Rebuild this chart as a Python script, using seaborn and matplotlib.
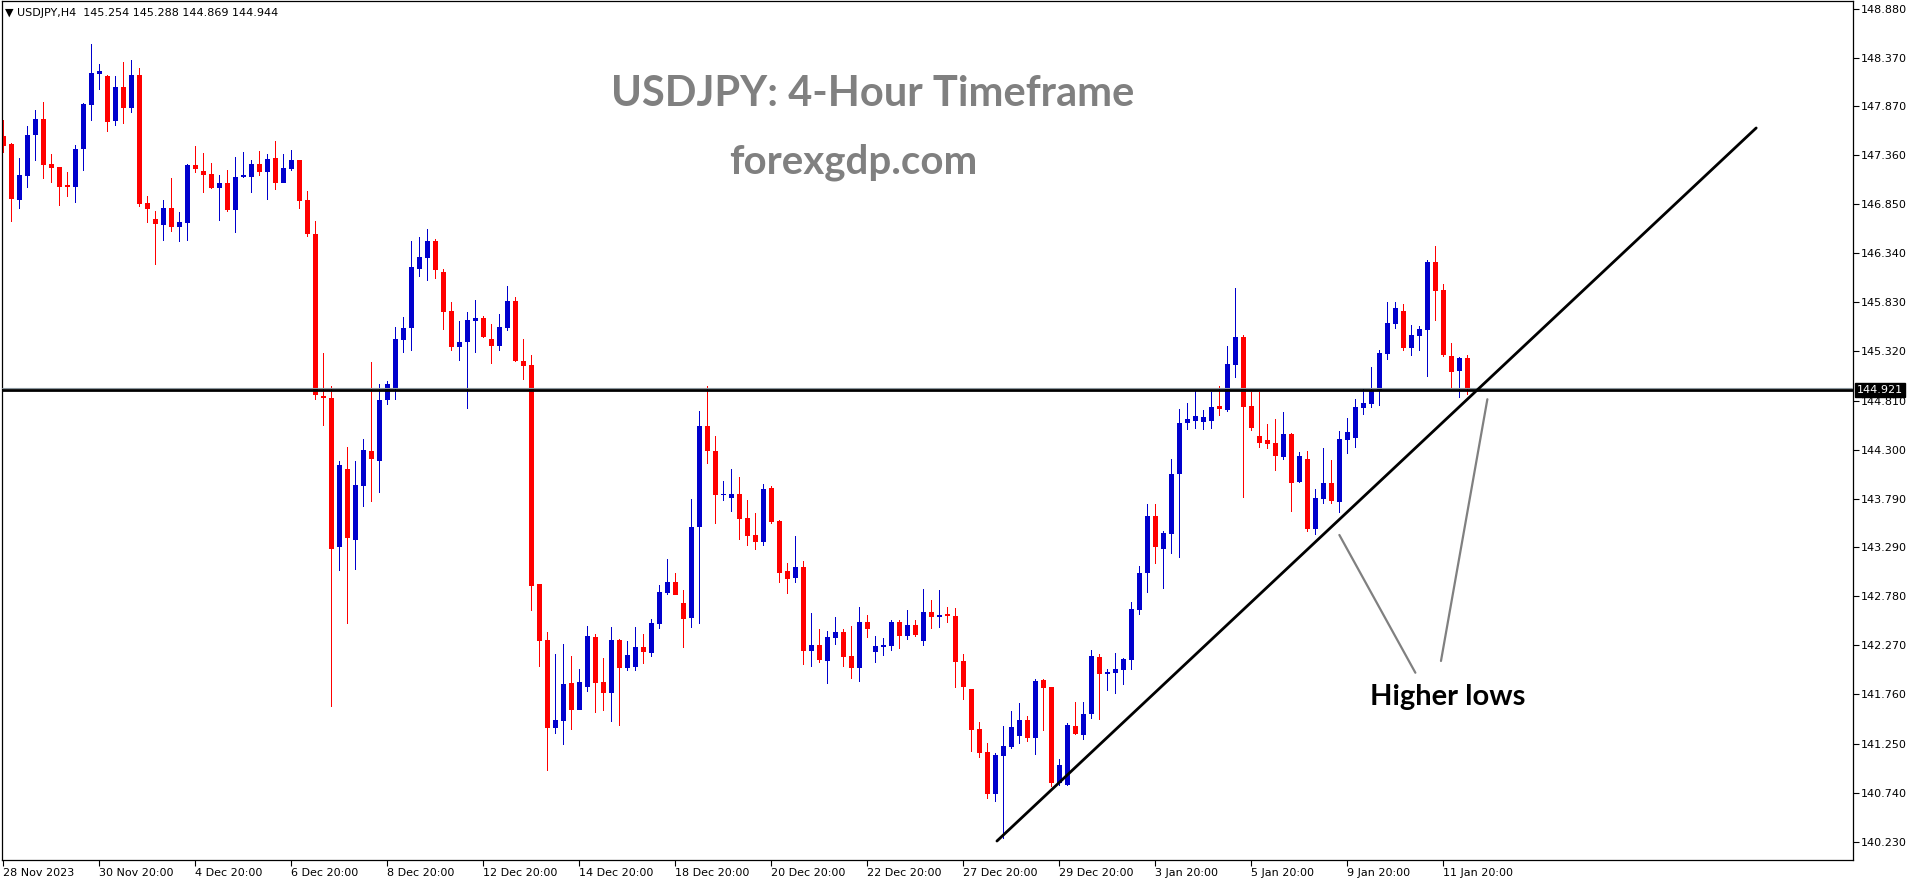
import numpy as np
import pandas as pd
import matplotlib
matplotlib.use("Agg")
import matplotlib.pyplot as plt
import matplotlib.transforms as mtransforms
import seaborn as sns

# USDJPY H4 candles, bar 0 = 28 Nov 2023 20:00
opens = [147.557, 147.474, 146.896, 147.145, 147.571, 147.733, 147.266, 147.235, 147.041, 147.031,
         147.425, 147.882, 148.204, 148.180, 147.716, 148.066, 147.851, 148.190, 146.861, 146.695,
         146.636, 146.809, 146.616, 146.657, 147.256, 147.194, 147.162, 147.021, 147.069, 146.792,
         147.130, 147.134, 147.267, 147.178, 147.327, 147.073, 147.214, 147.307, 146.891, 146.540,
         144.861, 144.836, 143.286, 144.102, 143.367, 143.928, 144.287, 144.186, 144.816, 144.929,
         145.442, 145.559, 146.181, 146.286, 146.467, 146.144, 145.741, 145.369, 145.414, 145.640,
         145.668, 145.447, 145.380, 145.566, 145.845, 145.221, 145.181, 142.901, 142.325, 141.415,
         141.486, 141.876, 141.601, 141.840, 142.356, 141.887, 141.776, 142.325, 142.038, 142.046,
         142.253, 142.193, 142.495, 142.817, 142.924, 142.710, 142.555, 143.496, 144.545, 144.287,
         143.830, 143.803, 143.841, 143.592, 143.415, 143.346, 143.907, 143.561, 143.041, 142.972,
         143.083, 142.215, 142.273, 142.111, 142.349, 142.408, 142.159, 142.038, 142.512, 142.204,
         142.256, 142.266, 142.512, 142.370, 142.481, 142.318, 142.616, 142.567, 142.595, 142.574,
         142.107, 141.816, 141.401, 141.162, 140.730, 141.124, 141.217, 141.332, 141.494, 141.311,
         141.910, 141.837, 140.844, 140.823, 141.432, 141.342, 141.560, 142.148, 141.975, 141.986,
         142.017, 142.121, 142.640, 143.024, 143.612, 143.273, 143.430, 144.050, 144.580, 144.600,
         144.592, 144.602, 144.755, 144.713, 145.184, 145.471, 144.755, 144.443, 144.402, 144.371,
         144.229, 144.464, 143.969, 144.205, 143.481, 143.793, 143.955, 143.762, 144.405, 144.422,
         144.737, 144.779, 144.917, 145.298, 145.609, 145.741, 145.360, 145.485, 145.547, 146.249,
         145.959, 145.274, 145.121, 145.254]
highs = [147.723, 147.481, 147.328, 147.661, 147.827, 147.910, 147.370, 147.235, 147.183, 147.463,
         147.899, 148.512, 148.304, 148.190, 148.180, 148.325, 148.346, 148.263, 146.934, 146.778,
         146.892, 147.121, 146.768, 147.266, 147.453, 147.380, 147.277, 147.155, 147.204, 147.339,
         147.392, 147.307, 147.400, 147.372, 147.505, 147.372, 147.412, 147.307, 146.984, 146.673,
         145.305, 144.962, 144.182, 144.328, 144.182, 144.413, 145.212, 144.982, 145.010, 145.575,
         145.680, 146.467, 146.512, 146.593, 146.488, 146.177, 145.834, 145.636, 145.729, 145.854,
         145.688, 145.606, 145.709, 145.999, 145.884, 145.447, 145.284, 142.909, 142.412, 142.177,
         142.281, 142.158, 142.023, 142.468, 142.392, 142.138, 142.460, 142.337, 142.313, 142.460,
         142.388, 142.543, 142.897, 143.167, 143.020, 142.845, 143.787, 144.700, 144.963, 144.442,
         143.973, 144.100, 144.017, 143.779, 143.644, 143.945, 143.924, 143.571, 143.125, 143.405,
         143.145, 142.606, 142.439, 142.419, 142.564, 142.439, 142.471, 142.668, 142.585, 142.367,
         142.346, 142.533, 142.533, 142.637, 142.533, 142.855, 142.740, 142.844, 142.668, 142.657,
         142.180, 141.816, 141.477, 141.255, 141.152, 141.432, 141.588, 141.671, 141.536, 141.920,
         141.920, 141.837, 141.089, 141.463, 141.681, 141.681, 142.221, 142.179, 142.024, 142.190,
         142.138, 142.719, 143.093, 143.736, 143.736, 143.456, 144.200, 144.720, 144.780, 144.920,
         144.713, 144.903, 144.962, 145.381, 145.980, 145.492, 144.900, 144.900, 144.568, 144.620,
         144.692, 144.474, 144.277, 144.287, 143.893, 144.319, 144.194, 144.495, 144.630, 144.827,
         144.941, 145.159, 145.336, 145.834, 145.834, 145.813, 145.595, 145.585, 146.270, 146.415,
         146.021, 145.409, 145.263, 145.288]
lows = [147.384, 146.668, 146.803, 147.021, 147.301, 147.114, 147.072, 146.834, 146.927, 146.865,
        147.197, 147.716, 148.038, 147.602, 147.664, 147.685, 147.799, 146.823, 146.657, 146.221,
        146.470, 146.564, 146.460, 146.470, 147.176, 146.969, 147.010, 146.678, 146.771, 146.553,
        147.117, 146.960, 147.146, 146.895, 147.000, 147.073, 147.198, 146.803, 146.512, 144.816,
        144.542, 141.627, 143.036, 142.495, 143.056, 143.710, 143.755, 143.855, 144.760, 144.816,
        145.301, 145.321, 146.096, 146.056, 146.068, 145.539, 145.329, 145.216, 144.727, 145.301,
        145.462, 145.185, 145.320, 145.535, 145.209, 145.026, 142.630, 142.046, 140.962, 141.351,
        141.232, 141.395, 141.601, 141.788, 141.570, 141.590, 141.470, 141.427, 142.007, 142.007,
        142.078, 142.150, 142.444, 142.793, 142.793, 142.245, 142.452, 142.491, 144.156, 143.532,
        143.763, 143.657, 143.367, 143.304, 143.263, 143.304, 143.533, 142.920, 142.806, 142.920,
        142.069, 142.048, 142.090, 141.872, 142.273, 142.048, 141.924, 141.893, 142.349, 142.090,
        142.163, 142.215, 142.235, 142.329, 142.360, 142.266, 142.443, 142.453, 142.505, 141.830,
        141.702, 141.166, 141.103, 140.678, 140.647, 140.255, 141.197, 141.249, 141.269, 141.134,
        141.384, 140.802, 140.813, 140.813, 141.342, 141.290, 141.508, 141.498, 141.799, 141.768,
        141.861, 142.017, 142.588, 142.816, 143.117, 142.858, 143.220, 143.180, 144.500, 144.520,
        144.505, 144.519, 144.654, 144.692, 145.049, 143.803, 144.499, 144.322, 144.312, 144.083,
        144.198, 143.658, 143.959, 143.450, 143.419, 143.741, 143.741, 143.647, 144.260, 144.322,
        144.665, 144.737, 144.758, 145.236, 145.557, 145.329, 145.277, 145.329, 145.059, 145.640,
        145.267, 144.935, 144.841, 144.869]
closes = [147.453, 146.906, 147.152, 147.567, 147.733, 147.259, 147.228, 147.031, 147.031, 147.422,
          147.889, 148.211, 148.232, 147.706, 148.066, 147.851, 148.190, 146.854, 146.803, 146.647,
          146.809, 146.616, 146.664, 147.256, 147.218, 147.155, 147.021, 147.069, 146.792, 147.131,
          147.150, 147.267, 147.178, 147.319, 147.073, 147.226, 147.307, 146.887, 146.544, 144.865,
          144.832, 143.274, 144.142, 143.379, 143.936, 144.299, 144.199, 144.816, 144.978, 145.450,
          145.563, 146.197, 146.302, 146.467, 146.161, 145.733, 145.369, 145.418, 145.648, 145.668,
          145.466, 145.380, 145.574, 145.845, 145.225, 145.173, 142.889, 142.317, 141.415, 141.494,
          141.868, 141.601, 141.887, 142.364, 141.880, 141.776, 142.325, 142.038, 142.169, 142.253,
          142.205, 142.499, 142.821, 142.924, 142.793, 142.547, 143.496, 144.545, 144.291, 143.834,
          143.842, 143.841, 143.585, 143.408, 143.346, 143.893, 143.550, 143.024, 142.962, 143.083,
          142.215, 142.273, 142.121, 142.356, 142.408, 142.152, 142.038, 142.512, 142.443, 142.263,
          142.273, 142.512, 142.370, 142.481, 142.381, 142.616, 142.567, 142.585, 142.578, 142.100,
          141.841, 141.394, 141.155, 140.730, 141.131, 141.224, 141.422, 141.494, 141.311, 141.899,
          141.830, 140.844, 141.027, 141.442, 141.352, 141.557, 142.159, 141.975, 141.993, 142.024,
          142.127, 142.647, 143.020, 143.612, 143.294, 143.435, 144.050, 144.580, 144.620, 144.650,
          144.640, 144.744, 144.727, 145.191, 145.471, 144.748, 144.530, 144.374, 144.364, 144.239,
          144.464, 143.959, 144.236, 143.481, 143.800, 143.955, 143.772, 144.412, 144.485, 144.744,
          144.786, 144.921, 145.305, 145.616, 145.772, 145.360, 145.492, 145.554, 146.249, 145.952,
          145.287, 145.111, 145.253, 144.944]

date_labels = ["28 Nov 2023", "30 Nov 20:00", "4 Dec 20:00", "6 Dec 20:00", "8 Dec 20:00",
               "12 Dec 20:00", "14 Dec 20:00", "18 Dec 20:00", "20 Dec 20:00", "22 Dec 20:00",
               "27 Dec 20:00", "29 Dec 20:00", "3 Jan 20:00", "5 Jan 20:00", "9 Jan 20:00",
               "11 Jan 20:00"]
price_ticks = [148.880, 148.370, 147.870, 147.360, 146.850, 146.340, 145.830, 145.320, 144.810,
               144.300, 143.790, 143.290, 142.780, 142.270, 141.760, 141.250, 140.740, 140.230]

level = 144.921   # horizontal line
bid = 144.944     # last close / bid line
trend_x = [124.2, 219.1]
trend_y = [140.238, 147.640]
pointer1_x = [167.0, 176.5]
pointer1_y = [143.415, 141.985]
pointer2_x = [179.7, 185.5]
pointer2_y = [142.107, 144.824]

sns.set_style("white")
plt.rcParams['font.family'] = ['DejaVu Sans']

df = pd.DataFrame({"bar": np.arange(len(opens)), "open": opens, "high": highs,
                   "low": lows, "close": closes})
df["up"] = df["close"] >= df["open"]
df["body_lo"] = df[["open", "close"]].min(axis=1)
df["body_h"] = (df["close"] - df["open"]).abs().clip(lower=0.012)
df["wick_h"] = df["high"] - df["low"]

W, H = 1916, 884
fig = plt.figure(figsize=(W / 100, H / 100), dpi=100)
ax = fig.add_axes([2 / W, 24 / H, 1851 / W, 859 / H])

for up, col in [(True, "#0000cd"), (False, "#ff0000")]:
    d = df[df["up"] == up]
    sns.barplot(data=d, x="bar", y="wick_h", bottom=d["low"].values, native_scale=True,
                width=0.14, color=col, saturation=1, errorbar=None, linewidth=0, ax=ax)
    sns.barplot(data=d, x="bar", y="body_h", bottom=d["body_lo"].values, native_scale=True,
                width=0.62, color=col, saturation=1, errorbar=None, linewidth=0, ax=ax)

# horizontal level and bid line
ax.axhline(bid, color="#8a969e", lw=0.8, zorder=3)
ax.axhline(level, color="black", lw=2.0, zorder=4)

# trend line and pointers
sns.lineplot(x=trend_x, y=trend_y, color="black", linewidth=2.0, ax=ax, zorder=5)
sns.lineplot(x=pointer1_x, y=pointer1_y, color="#808080", linewidth=1.6, ax=ax, zorder=5)
sns.lineplot(x=pointer2_x, y=pointer2_y, color="#808080", linewidth=1.6, ax=ax, zorder=5)
ax.text(180.6, 141.733, "Higher lows", fontsize=21, fontweight="bold", family="Lato",
        color="black", ha="center", va="center", zorder=6)

ax.set_xlim(-0.16, 231.2)
ax.set_ylim(140.041, 148.958)
ax.set_xlabel("")
ax.set_ylabel("")

ax.set_xticks(np.arange(0, 12 * len(date_labels), 12))
ax.set_xticklabels(date_labels, ha="left")
ax.yaxis.tick_right()
ax.set_yticks(price_ticks)
ax.set_yticklabels([f"{v:.3f}" for v in price_ticks])
ax.tick_params(axis="x", bottom=True, direction="out", length=4, width=0.8, pad=1.5,
               labelsize=8, colors="black")
ax.tick_params(axis="y", right=True, left=False, direction="out", length=4, width=0.8,
               pad=1.5, labelsize=8, colors="black")
for s in ax.spines.values():
    s.set_visible(True)
    s.set_color("black")
    s.set_linewidth(0.9)

# price marker on the axis
tr = mtransforms.blended_transform_factory(ax.transAxes, ax.transData)
ax.text(1.0 + 4 / 1851, level, "144.921", transform=tr, color="white", fontsize=8,
        ha="left", va="center", clip_on=False, zorder=7,
        bbox=dict(facecolor="black", edgecolor="black", pad=1.2))

# header and watermark titles
fig.text(5 / W, 1 - 12.8 / H, "\u25bc USDJPY,H4  145.254 145.288 144.869 144.944",
         fontsize=8, color="black", ha="left", va="center")
fig.text(873 / W, 1 - 93.5 / H, "USDJPY: 4-Hour Timeframe", fontsize=30, fontweight="bold",
         family="Lato", color="#808080", ha="center", va="center")
fig.text(853 / W, 1 - 162.5 / H, "forexgdp.com", fontsize=29, fontweight="bold",
         family="Lato", color="#808080", ha="center", va="center")

fig.savefig("out.png", dpi=100)
